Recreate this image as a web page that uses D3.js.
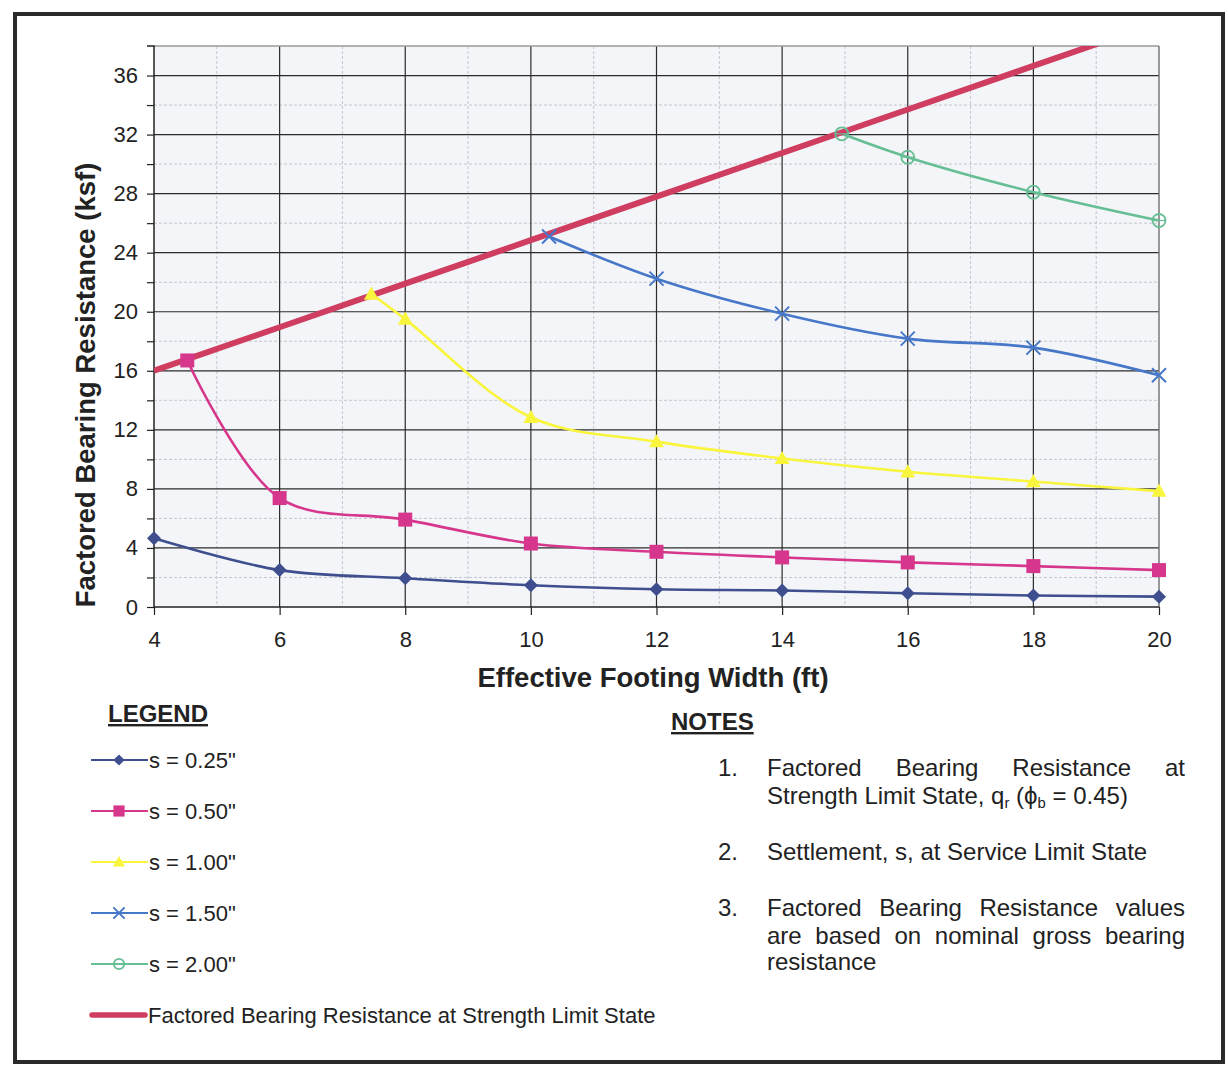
<!DOCTYPE html>
<html>
<head>
<meta charset="utf-8">
<script src="https://cdn.jsdelivr.net/npm/d3@7"></script>
<style>
  html, body { margin: 0; padding: 0; background: #fff; }
  svg { display: block; font-family: "Liberation Sans", Arial, sans-serif; }
</style>
</head>
<body>
<svg id="chart" width="1228" height="1066"></svg>
<script>
// ---- data ----
const xTicks = [4, 6, 8, 10, 12, 14, 16, 18, 20];
const yTicks = [0, 4, 8, 12, 16, 20, 24, 28, 32, 36];

const s025 = [[4, 4.65], [6, 2.5], [8, 1.95], [10, 1.47], [12, 1.2], [14, 1.12], [16, 0.93], [18, 0.78], [20, 0.7]];
const s050 = [[4.53, 16.7], [6, 7.38], [8, 5.92], [10, 4.3], [12, 3.74], [14, 3.36], [16, 3.02], [18, 2.77], [20, 2.5]];
const s100 = [[7.46, 21.2], [8, 19.5], [10, 12.85], [12, 11.2], [14, 10.06], [16, 9.16], [18, 8.5], [20, 7.85]];
const s150 = [[10.29, 25.1], [12, 22.24], [14, 19.87], [16, 18.18], [18, 17.57], [20, 15.7]];
const s200 = [[14.95, 32.05], [16, 30.47], [18, 28.1], [20, 26.18]];
const strength = [[4, 16.0], [6, 18.95], [8, 21.9], [10, 24.85], [12, 27.8], [14, 30.75], [16, 33.7], [18, 36.65], [20, 39.6]];

const seriesNames = ['s = 0.25"', 's = 0.50"', 's = 1.00"', 's = 1.50"', 's = 2.00"'];
const strengthName = "Factored Bearing Resistance at Strength Limit State";
const notes = [
  ["Factored Bearing Resistance at", "Strength Limit State, q|r| (ϕ|b| = 0.45)"],
  ["Settlement, s, at Service Limit State"],
  ["Factored Bearing Resistance values", "are based on nominal gross bearing", "resistance"]
];

// ---- styling ----
const series = [
  { name: seriesNames[0], data: s025, color: "#3E4E8E", marker: "diamond" },
  { name: seriesNames[1], data: s050, color: "#D6378C", marker: "square" },
  { name: seriesNames[2], data: s100, color: "#F8F53C", marker: "triangle" },
  { name: seriesNames[3], data: s150, color: "#4677C8", marker: "x" },
  { name: seriesNames[4], data: s200, color: "#66BE94", marker: "circle" }
];
const redColor = "#CF3D60";
const FONT = "Liberation Sans, Arial, sans-serif";

const svg = d3.select("#chart");
const M = { left: 154, right: 1159, top: 46, bottom: 607 };
const x = d3.scaleLinear().domain([4, 20]).range([M.left, M.right]);
const y = d3.scaleLinear().domain([0, 38]).range([M.bottom, M.top]);

// outer frame
svg.append("rect").attr("x", 15).attr("y", 14).attr("width", 1208).attr("height", 1048)
  .attr("fill", "none").attr("stroke", "#2a2a2a").attr("stroke-width", 4);

// plot background
svg.append("rect").attr("x", M.left).attr("y", M.top)
  .attr("width", M.right - M.left).attr("height", M.bottom - M.top)
  .attr("fill", "#f4f5f8");

const grid = svg.append("g");
d3.range(5, 20, 2).forEach(v => {
  grid.append("line").attr("x1", x(v)).attr("x2", x(v)).attr("y1", M.top).attr("y2", M.bottom)
    .attr("stroke", "#c4c6ce").attr("stroke-width", 1).attr("stroke-dasharray", "3,2");
});
d3.range(2, 38, 4).forEach(v => {
  grid.append("line").attr("x1", M.left).attr("x2", M.right).attr("y1", y(v)).attr("y2", y(v))
    .attr("stroke", "#c4c6ce").attr("stroke-width", 1).attr("stroke-dasharray", "3,2");
});
d3.range(6, 20, 2).forEach(v => {
  grid.append("line").attr("x1", x(v)).attr("x2", x(v)).attr("y1", M.top).attr("y2", M.bottom)
    .attr("stroke", "#2b2b2b").attr("stroke-width", 1.2);
});
d3.range(4, 38, 4).forEach(v => {
  grid.append("line").attr("x1", M.left).attr("x2", M.right).attr("y1", y(v)).attr("y2", y(v))
    .attr("stroke", "#2b2b2b").attr("stroke-width", 1.2);
});
svg.append("line").attr("x1", M.left).attr("x2", M.right).attr("y1", M.top).attr("y2", M.top)
  .attr("stroke", "#9a9a9a").attr("stroke-width", 1.5);
svg.append("line").attr("x1", M.right).attr("x2", M.right).attr("y1", M.top).attr("y2", M.bottom)
  .attr("stroke", "#777").attr("stroke-width", 1.5);

// axes
const yAxis = d3.axisLeft(y).tickValues(d3.range(0, 38, 2)).tickSize(7)
  .tickFormat(d => yTicks.includes(d) ? d : "");
const gy = svg.append("g").attr("transform", `translate(${M.left},0)`).call(yAxis)
  .attr("font-family", FONT).attr("font-size", 22);
gy.select(".domain").attr("stroke", "#222").attr("stroke-width", 1.5).attr("d", `M-7,${M.top}H0V${M.bottom}`);
gy.selectAll(".tick line").attr("stroke", "#222").attr("stroke-width", 1.2);
gy.selectAll(".tick text").attr("fill", "#222").attr("x", -16);

const xAxis = d3.axisBottom(x).tickValues(xTicks).tickSize(8).tickPadding(16);
const gx = svg.append("g").attr("transform", `translate(0,${M.bottom})`).call(xAxis)
  .attr("font-family", FONT).attr("font-size", 22);
gx.select(".domain").attr("stroke", "#222").attr("stroke-width", 1.5).attr("d", `M${M.left},0H${M.right}`);
gx.selectAll(".tick line").attr("stroke", "#222").attr("stroke-width", 1.2);
gx.selectAll(".tick text").attr("fill", "#222");

// axis titles
svg.append("text").attr("transform", `translate(95,385) rotate(-90)`)
  .attr("text-anchor", "middle").attr("font-size", 27.5).attr("font-weight", "bold").attr("fill", "#222")
  .text("Factored Bearing Resistance (ksf)");
svg.append("text").attr("x", 653).attr("y", 687).attr("text-anchor", "middle")
  .attr("font-size", 27.5).attr("font-weight", "bold").attr("fill", "#222")
  .text("Effective Footing Width (ft)");

svg.append("clipPath").attr("id", "clip").append("rect")
  .attr("x", M.left).attr("y", M.top).attr("width", M.right - M.left).attr("height", M.bottom - M.top);

const line = d3.line().x(d => x(d[0])).y(d => y(d[1])).curve(d3.curveCatmullRom.alpha(0.5));
const straight = d3.line().x(d => x(d[0])).y(d => y(d[1]));

const plot = svg.append("g");

function drawMarker(g, type, cx, cy, color, s) {
  s = s || 1;
  if (type === "diamond") {
    const r = 7 * s;
    g.append("path").attr("d", `M${cx},${cy - r}L${cx + r},${cy}L${cx},${cy + r}L${cx - r},${cy}Z`).attr("fill", color);
  } else if (type === "square") {
    const r = 7 * s;
    g.append("rect").attr("x", cx - r).attr("y", cy - r).attr("width", 2 * r).attr("height", 2 * r).attr("fill", color);
  } else if (type === "triangle") {
    const r = 7.5 * s;
    g.append("path").attr("d", `M${cx},${cy - r}L${cx + r},${cy + r * 0.75}L${cx - r},${cy + r * 0.75}Z`).attr("fill", color);
  } else if (type === "x") {
    const r = 7 * s;
    g.append("path").attr("d", `M${cx - r},${cy - r}L${cx + r},${cy + r}M${cx - r},${cy + r}L${cx + r},${cy - r}`)
      .attr("stroke", color).attr("stroke-width", 2).attr("fill", "none");
  } else if (type === "circle") {
    g.append("circle").attr("cx", cx).attr("cy", cy).attr("r", 6.5 * s)
      .attr("fill", "none").attr("stroke", color).attr("stroke-width", 1.8);
    g.append("line").attr("x1", cx - 6.5 * s).attr("x2", cx + 6.5 * s).attr("y1", cy).attr("y2", cy)
      .attr("stroke", color).attr("stroke-width", 1.2);
  }
}

series.forEach(sr => {
  plot.append("path").datum(sr.data).attr("d", line).attr("fill", "none")
    .attr("stroke", sr.color).attr("stroke-width", 2.6);
});
plot.append("path").datum(strength).attr("d", straight).attr("fill", "none")
  .attr("stroke", redColor).attr("stroke-width", 6).attr("clip-path", "url(#clip)");
series.forEach(sr => {
  const g = plot.append("g");
  sr.data.forEach(d => drawMarker(g, sr.marker, x(d[0]), y(d[1]), sr.color));
});

// legend
svg.append("text").attr("x", 108).attr("y", 722).attr("font-size", 24).attr("font-weight", "bold")
  .attr("fill", "#222").attr("text-decoration", "underline").text("LEGEND");
const legY = [760, 811, 862, 913, 964];
series.forEach((sr, i) => {
  const ly = legY[i];
  svg.append("line").attr("x1", 91).attr("x2", 148).attr("y1", ly).attr("y2", ly)
    .attr("stroke", sr.color).attr("stroke-width", 2.2);
  drawMarker(svg, sr.marker, 119, ly, sr.color, 0.8);
  svg.append("text").attr("x", 149).attr("y", ly + 8).attr("font-size", 22).attr("fill", "#222").text(sr.name);
});
svg.append("line").attr("x1", 92).attr("x2", 145).attr("y1", 1015).attr("y2", 1015)
  .attr("stroke", redColor).attr("stroke-width", 5.5).attr("stroke-linecap", "round");
svg.append("text").attr("x", 148).attr("y", 1023).attr("font-size", 22).attr("fill", "#222").text(strengthName);

// notes
const NF = 24;
svg.append("text").attr("x", 671).attr("y", 730).attr("font-size", 24).attr("font-weight", "bold")
  .attr("fill", "#222").attr("text-decoration", "underline").text("NOTES");

const noteY = [[776, 804], [860], [916, 944, 970]];
const textL = 767, textR = 1185;
function richText(t, str, fs) {
  str.split("|").forEach((seg, k) => {
    if (!seg) return;
    const ts = t.append("tspan").text(seg);
    if (k % 2 === 1) ts.attr("font-size", fs * 0.62).attr("dy", 4);
    else if (k > 0) ts.attr("dy", -4);
  });
}
notes.forEach((lines, i) => {
  svg.append("text").attr("x", 718).attr("y", noteY[i][0]).attr("font-size", NF).attr("fill", "#222").text((i + 1) + ".");
  lines.forEach((ln, j) => {
    const justify = j < lines.length - 1;
    if (justify) {
      const words = ln.split(" ");
      const tmp = svg.append("text").attr("font-size", NF).attr("visibility", "hidden");
      const widths = words.map(w => { tmp.text(w); return tmp.node().getComputedTextLength(); });
      tmp.remove();
      const total = d3.sum(widths);
      const gap = (textR - textL - total) / (words.length - 1);
      let cx = textL;
      words.forEach((w, k) => {
        svg.append("text").attr("x", cx).attr("y", noteY[i][j]).attr("font-size", NF).attr("fill", "#222").text(w);
        cx += widths[k] + gap;
      });
    } else {
      const t = svg.append("text").attr("x", textL).attr("y", noteY[i][j]).attr("font-size", NF).attr("fill", "#222");
      richText(t, ln, NF);
    }
  });
});
</script>
</body>
</html>
